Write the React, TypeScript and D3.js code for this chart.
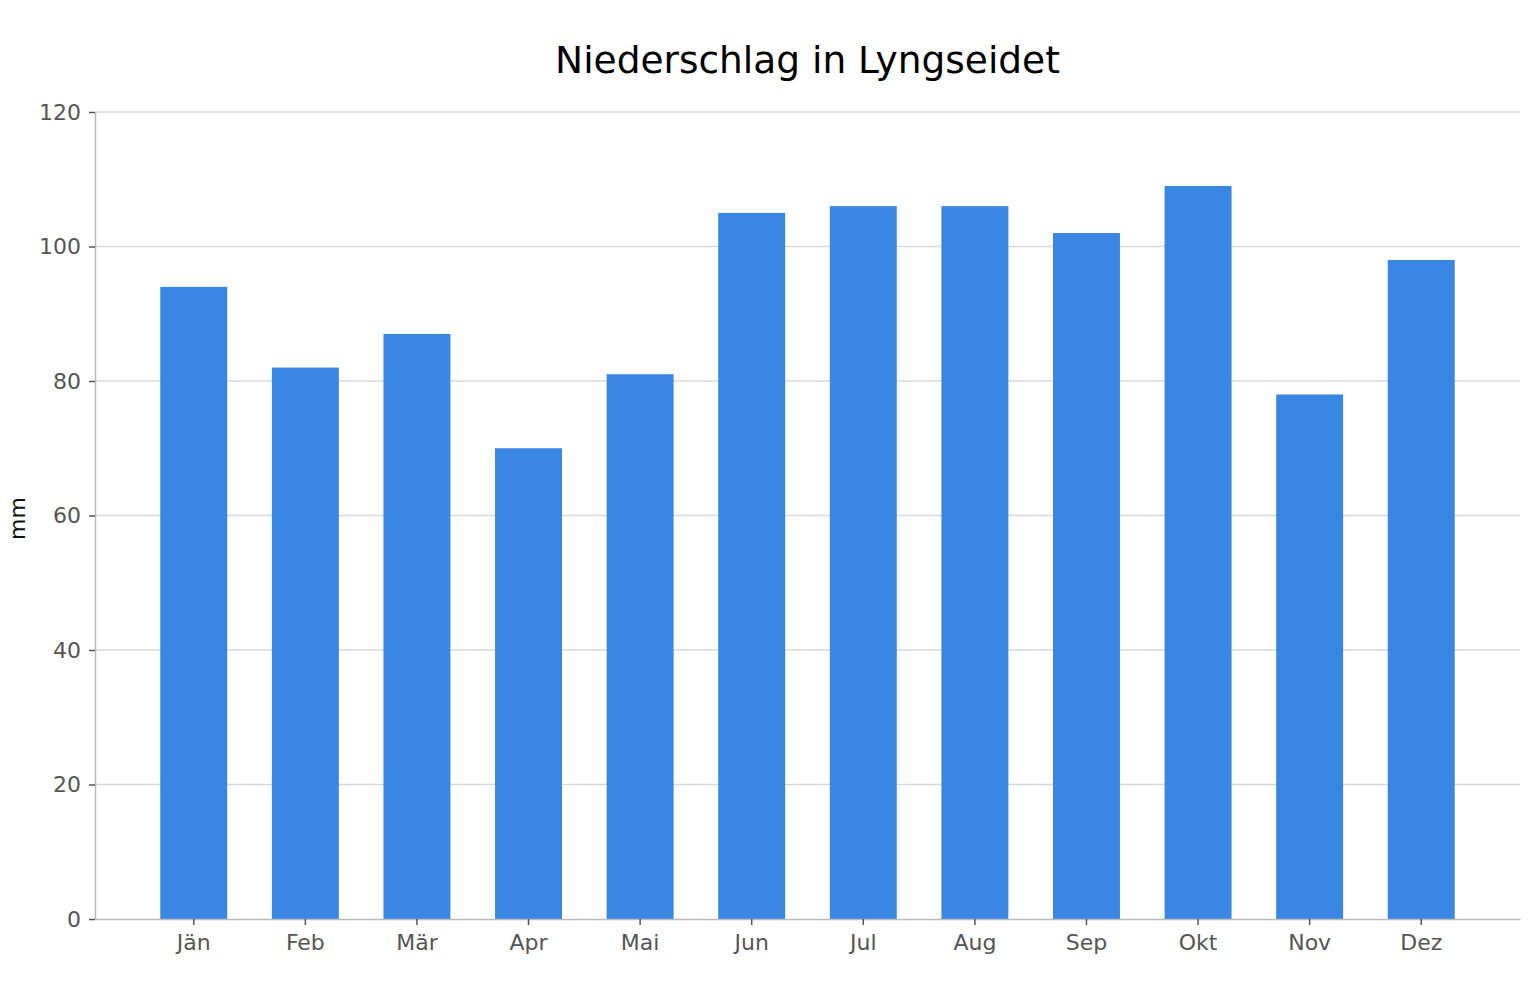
import React, { useEffect, useRef } from "react";
import * as d3 from "d3";

const months = ["Jän", "Feb", "Mär", "Apr", "Mai", "Jun", "Jul", "Aug", "Sep", "Okt", "Nov", "Dez"];
const precipitation = [94, 82, 87, 70, 81, 105, 106, 106, 102, 109, 78, 98];
const yTicks = [0, 20, 40, 60, 80, 100, 120];

const width = 1528;
const height = 1000;
const margin = { top: 112, right: 8, bottom: 81, left: 95 };

function App() {
  const svgRef = useRef<SVGSVGElement>(null);

  useEffect(() => {
    const svg = d3.select(svgRef.current);
    svg.selectAll("*").remove();

    const x = d3
      .scaleBand()
      .domain(months)
      .range([margin.left, width - margin.right])
      .paddingInner(0.4)
      .paddingOuter(0.585);

    const y = d3
      .scaleLinear()
      .domain([0, 120])
      .range([height - margin.bottom, margin.top]);

    // grid
    svg
      .append("g")
      .selectAll("line")
      .data(yTicks.filter((t) => t > 0))
      .join("line")
      .attr("x1", margin.left)
      .attr("x2", width - margin.right)
      .attr("y1", (d) => y(d))
      .attr("y2", (d) => y(d))
      .attr("stroke", "#d9d9d9")
      .attr("stroke-width", 1.3);

    // bars
    svg
      .append("g")
      .selectAll("rect")
      .data(precipitation)
      .join("rect")
      .attr("x", (_, i) => x(months[i]) as number)
      .attr("y", (d) => y(d))
      .attr("width", x.bandwidth())
      .attr("height", (d) => y(0) - y(d))
      .attr("fill", "#3a86e3");

    // y axis
    const yAxis = svg
      .append("g")
      .attr("transform", `translate(${margin.left},0)`)
      .call(d3.axisLeft(y).tickValues(yTicks).tickSize(6).tickPadding(8).tickSizeOuter(0));
    yAxis.select(".domain").attr("stroke", "#bbbbbb").attr("stroke-width", 1.5);
    yAxis.selectAll(".tick line").attr("stroke", "#555555").attr("stroke-width", 1.5);
    yAxis
      .selectAll(".tick text")
      .attr("fill", "#555555")
      .style("font-size", "22px")
      .style("font-family", "DejaVu Sans");

    // x axis
    const xAxis = svg
      .append("g")
      .attr("transform", `translate(0,${height - margin.bottom})`)
      .call(d3.axisBottom(x).tickSize(6).tickPadding(9).tickSizeOuter(0));
    xAxis.select(".domain").attr("stroke", "#bbbbbb").attr("stroke-width", 1.5);
    xAxis.selectAll(".tick line").attr("stroke", "#555555").attr("stroke-width", 1.5);
    xAxis
      .selectAll(".tick text")
      .attr("fill", "#555555")
      .style("font-size", "22px")
      .style("font-family", "DejaVu Sans");

    // y label
    svg
      .append("text")
      .attr("transform", `translate(25,${(margin.top + height - margin.bottom) / 2 + 3}) rotate(-90)`)
      .attr("text-anchor", "middle")
      .style("font-size", "22px")
      .style("font-family", "DejaVu Sans")
      .attr("fill", "#111111")
      .text("mm");

    // title
    svg
      .append("text")
      .attr("x", (margin.left + width - margin.right) / 2)
      .attr("y", 73)
      .attr("text-anchor", "middle")
      .style("font-size", "37.5px")
      .style("font-family", "DejaVu Sans")
      .attr("fill", "#000000")
      .text("Niederschlag in Lyngseidet");
  }, []);

  return (
    <div style={{ position: "absolute", top: 0, left: 0, background: "#fff" }}>
      <svg ref={svgRef} width={width} height={height} />
    </div>
  );
}

export default App;
